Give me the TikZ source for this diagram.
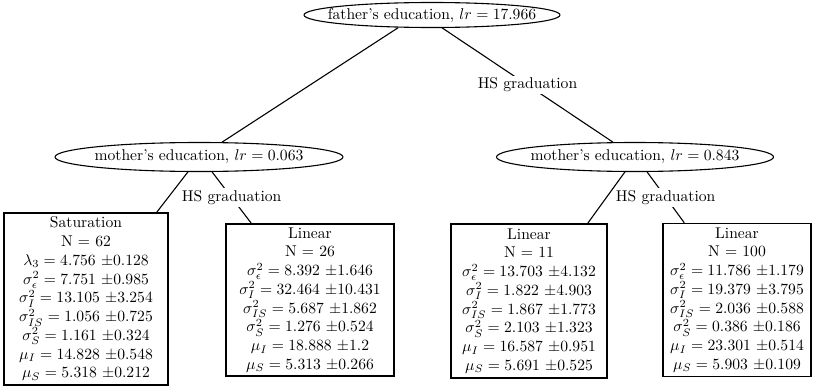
\documentclass[tikz,border=0pt]{standalone}
\usetikzlibrary{shapes.geometric}
\def\px{0.64pt}
\begin{document}
\begin{tikzpicture}[x=0.64pt,y=-0.64pt,
  split/.style={rectangle, inner sep=0pt},
  ring/.style={draw, line width=0.7pt},
  leaf/.style={rectangle, draw, line width=0.9pt, inner sep=0pt, align=center},
  branch/.style={line width=0.7pt},
  cond/.style={fill=white, inner sep=1.5pt}]
\useasboundingbox (0,0) rectangle (819,389);

% split nodes: text in a box of the ellipse's size, flat ellipse drawn around it
\node[split, minimum width=256*\px, minimum height=25*\px] (father) at (432,15)
  {father's education, $lr = 17.966$};
\node[split, minimum width=288*\px, minimum height=29*\px] (momL) at (199,157)
  {mother's education, $lr = 0.063$};
\node[split, minimum width=277*\px, minimum height=29*\px] (momR) at (635,157)
  {mother's education, $lr = 0.843$};
\draw[ring] (father.center) ellipse [x radius=128*\px, y radius=12.5*\px];
\draw[ring] (momL.center) ellipse [x radius=144*\px, y radius=14.5*\px];
\draw[ring] (momR.center) ellipse [x radius=138.5*\px, y radius=14.5*\px];

% leaf models
\node[leaf, minimum width=164*\px, minimum height=172*\px] (sat) at (86,299)
  {Saturation\\
   N $=$ 62\\
   $\lambda_3 = 4.756$ $\pm0.128$\\
   $\sigma^2_\epsilon = 7.751$ $\pm0.985$\\
   $\sigma^2_I = 13.105$ $\pm3.254$\\
   $\sigma^2_{IS} = 1.056$ $\pm0.725$\\
   $\sigma^2_S = 1.161$ $\pm0.324$\\
   $\mu_I = 14.828$ $\pm0.548$\\
   $\mu_S = 5.318$ $\pm0.212$};
\node[leaf, minimum width=168*\px, minimum height=152*\px] (lin2) at (310,300)
  {Linear\\
   N $=$ 26\\
   $\sigma^2_\epsilon = 8.392$ $\pm1.646$\\
   $\sigma^2_I = 32.464$ $\pm10.431$\\
   $\sigma^2_{IS} = 5.687$ $\pm1.862$\\
   $\sigma^2_S = 1.276$ $\pm0.524$\\
   $\mu_I = 18.888$ $\pm1.2$\\
   $\mu_S = 5.313$ $\pm0.266$};
\node[leaf, minimum width=156*\px, minimum height=154*\px] (lin3) at (529,301)
  {Linear\\
   N $=$ 11\\
   $\sigma^2_\epsilon = 13.703$ $\pm4.132$\\
   $\sigma^2_I = 1.822$ $\pm4.903$\\
   $\sigma^2_{IS} = 1.867$ $\pm1.773$\\
   $\sigma^2_S = 2.103$ $\pm1.323$\\
   $\mu_I = 16.587$ $\pm0.951$\\
   $\mu_S = 5.691$ $\pm0.525$};
\node[leaf, minimum width=148*\px, minimum height=153*\px] (lin4) at (737,300)
  {Linear\\
   N $=$ 100\\
   $\sigma^2_\epsilon = 11.786$ $\pm1.179$\\
   $\sigma^2_I = 19.379$ $\pm3.795$\\
   $\sigma^2_{IS} = 2.036$ $\pm0.588$\\
   $\sigma^2_S = 0.386$ $\pm0.186$\\
   $\mu_I = 23.301$ $\pm0.514$\\
   $\mu_S = 5.903$ $\pm0.109$};

% branches
\draw[branch] ([xshift=-34*\px]father.south) -- ([xshift=23*\px]momL.north);
\draw[branch] ([xshift=10*\px]father.south) -- node[cond] {HS graduation}
  ([xshift=-22*\px]momR.north);
\draw[branch] ([xshift=-11*\px]momL.south) -- ([xshift=-12*\px]sat.north east);
\draw[branch] ([xshift=13*\px]momL.south) -- node[cond] {HS graduation}
  ([xshift=26*\px]lin2.north west);
\draw[branch] ([xshift=-10*\px]momR.south) -- ([xshift=-20*\px]lin3.north east);
\draw[branch] ([xshift=12*\px]momR.south) -- node[cond] {HS graduation}
  ([xshift=22*\px]lin4.north west);
\end{tikzpicture}
\end{document}
